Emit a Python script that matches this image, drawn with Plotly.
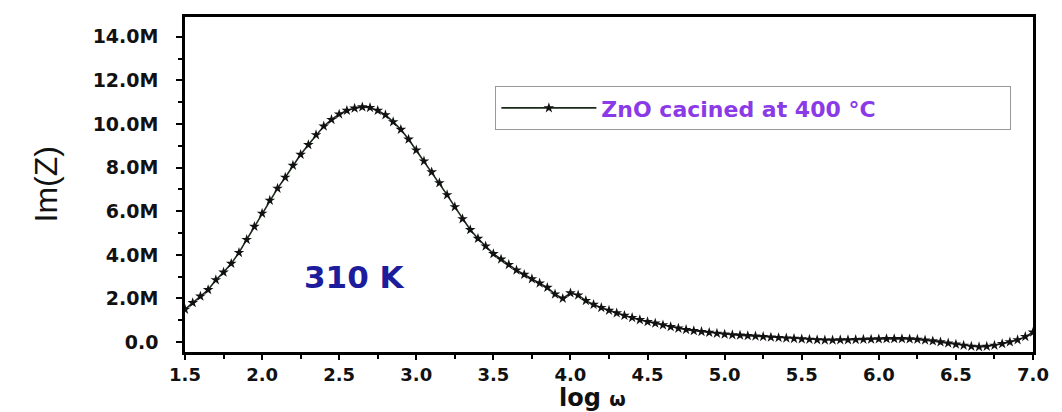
import plotly.graph_objects as go

# log(omega) values
log_omega = [1.50, 1.55, 1.60, 1.65, 1.70, 1.75, 1.80, 1.85, 1.90, 1.95,
             2.00, 2.05, 2.10, 2.15, 2.20, 2.25, 2.30, 2.35, 2.40, 2.45,
             2.50, 2.55, 2.60, 2.65, 2.70, 2.75, 2.80, 2.85, 2.90, 2.95,
             3.00, 3.05, 3.10, 3.15, 3.20, 3.25, 3.30, 3.35, 3.40, 3.45,
             3.50, 3.55, 3.60, 3.65, 3.70, 3.75, 3.80, 3.85, 3.90, 3.95,
             4.00, 4.05, 4.10, 4.15, 4.20, 4.25, 4.30, 4.35, 4.40, 4.45,
             4.50, 4.55, 4.60, 4.65, 4.70, 4.75, 4.80, 4.85, 4.90, 4.95,
             5.00, 5.05, 5.10, 5.15, 5.20, 5.25, 5.30, 5.35, 5.40, 5.45,
             5.50, 5.55, 5.60, 5.65, 5.70, 5.75, 5.80, 5.85, 5.90, 5.95,
             6.00, 6.05, 6.10, 6.15, 6.20, 6.25, 6.30, 6.35, 6.40, 6.45,
             6.50, 6.55, 6.60, 6.65, 6.70, 6.75, 6.80, 6.85, 6.90, 6.95,
             7.00]

# Im(Z) in units of 1e6 ohm (M)
im_z_M = [1.50, 1.80, 2.10, 2.40, 2.85, 3.20, 3.60, 4.10, 4.70, 5.30,
          5.90, 6.50, 7.05, 7.55, 8.10, 8.60, 9.05, 9.50, 9.90, 10.20,
          10.45, 10.62, 10.72, 10.78, 10.75, 10.62, 10.42, 10.10, 9.75, 9.30,
          8.80, 8.30, 7.80, 7.30, 6.75, 6.20, 5.65, 5.15, 4.75, 4.40,
          4.05, 3.80, 3.55, 3.30, 3.10, 2.90, 2.70, 2.50, 2.20, 2.00,
          2.25, 2.15, 1.90, 1.72, 1.58, 1.45, 1.33, 1.22, 1.12, 1.02,
          0.93, 0.86, 0.78, 0.70, 0.63, 0.57, 0.52, 0.48, 0.44, 0.40,
          0.36, 0.33, 0.31, 0.29, 0.27, 0.25, 0.22, 0.20, 0.18, 0.16,
          0.14, 0.12, 0.10, 0.09, 0.09, 0.10, 0.10, 0.11, 0.12, 0.13,
          0.14, 0.15, 0.15, 0.15, 0.14, 0.12, 0.09, 0.05, 0.00, -0.05,
          -0.10, -0.15, -0.20, -0.22, -0.20, -0.15, -0.08, 0.00, 0.10, 0.25,
          0.45]

y_tickvals = [0, 2, 4, 6, 8, 10, 12, 14]
y_ticktext = ["0.0", "2.0M", "4.0M", "6.0M", "8.0M", "10.0M", "12.0M", "14.0M"]
x_tickvals = [1.5, 2.0, 2.5, 3.0, 3.5, 4.0, 4.5, 5.0, 5.5, 6.0, 6.5, 7.0]
x_ticktext = ["1.5", "2.0", "2.5", "3.0", "3.5", "4.0", "4.5", "5.0", "5.5", "6.0", "6.5", "7.0"]

series_name = "ZnO cacined at 400 °C"
temp_label = "310 K"

fig = go.Figure()
fig.add_trace(go.Scatter(
    x=log_omega, y=im_z_M, mode="lines+markers", name=series_name,
    line=dict(color="#1a2a1a", width=1.6),
    marker=dict(symbol="star", size=8, color="#111111"),
))

y_tick_font = dict(family="DejaVu Sans", size=19, color="#111111", weight="bold")
x_tick_font = dict(family="DejaVu Sans", size=18, color="#111111", weight="bold")

fig.update_layout(
    width=1054, height=404,
    margin=dict(l=177, r=29, t=6, b=60),
    paper_bgcolor="white", plot_bgcolor="white",
    showlegend=True,
    legend=dict(
        x=0.366, y=0.728, xanchor="left", yanchor="middle",
        bordercolor="#999999", borderwidth=1, bgcolor="white",
        font=dict(family="DejaVu Sans", size=22, color="#8a3ae6", weight="bold"),
        itemwidth=95, orientation="h", entrywidth=404,
        tracegroupgap=0,
    ),
    xaxis=dict(
        range=[1.5, 7.0], tickvals=x_tickvals, ticktext=x_ticktext,
        ticks="outside", ticklen=5, tickwidth=2, tickcolor="black",
        minor=dict(ticks="outside", ticklen=4, tickwidth=2, tickcolor="black", dtick=0.25),
        showline=True, linewidth=2.5, linecolor="black", mirror=True,
        showgrid=False, zeroline=False, tickfont=x_tick_font,
    ),
    yaxis=dict(
        range=[-0.4545, 14.909], tickvals=y_tickvals, ticktext=y_ticktext,
        ticks="outside", ticklen=6, tickwidth=2, tickcolor="black",
        minor=dict(ticks="outside", ticklen=4, tickwidth=2, tickcolor="black", dtick=1),
        showline=True, linewidth=2.5, linecolor="black", mirror=True,
        showgrid=False, zeroline=False, tickfont=y_tick_font, ticklabelstandoff=14,
    ),
)

fig.add_annotation(
    x=2.6, y=3.0, xref="x", yref="y", text=temp_label, showarrow=False,
    font=dict(family="DejaVu Sans", size=31, color="#1c1c9c", weight="bold"),
)
fig.add_annotation(
    x=0, xshift=-140, y=0.5, xref="paper", yref="paper", text="Im(Z)", showarrow=False,
    textangle=-90, xanchor="center", yanchor="middle",
    font=dict(family="Liberation Sans", size=32, color="#111111"),
)
fig.add_annotation(
    x=0.48, y=0, xref="paper", yref="paper", yshift=-46,
    text="log <span style='font-size:19px'>ω</span>", showarrow=False,
    xanchor="center", yanchor="middle",
    font=dict(family="DejaVu Sans", size=24, color="#111111", weight="bold"),
)

fig.write_html("out.html")
